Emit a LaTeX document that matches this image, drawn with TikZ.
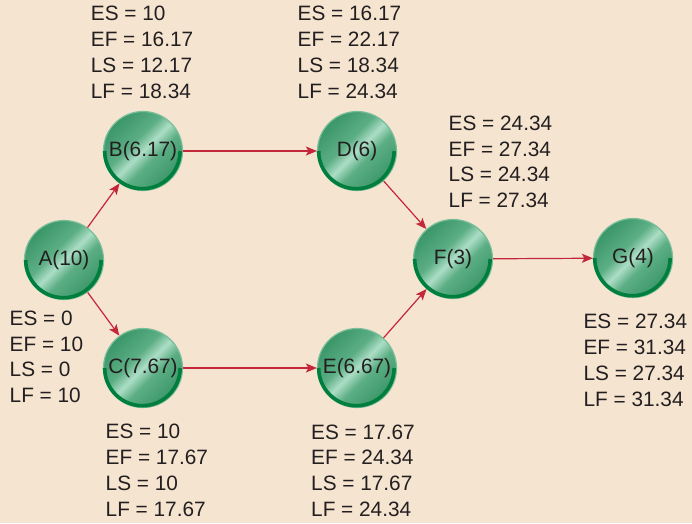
\documentclass[tikz,border=0pt]{standalone}
\usepackage{fontspec}
\setmainfont{Liberation Sans}
\usetikzlibrary{arrows.meta, positioning}
\definecolor{bgpeach}{RGB}{245,228,208}
\definecolor{arrred}{RGB}{196,38,58}
\definecolor{inkdark}{RGB}{35,31,32}
\definecolor{balldark}{RGB}{58,150,104}
\definecolor{ballmid}{RGB}{92,174,132}
\definecolor{balllight}{RGB}{172,222,198}
\definecolor{rimdark}{RGB}{0,126,62}
\definecolor{rimlight}{RGB}{120,190,152}
\pgfdeclarehorizontalshading{ballsheen}{100bp}{color(0bp)=(balldark); color(25bp)=(balldark);
  color(42bp)=(ballmid); color(50bp)=(balllight); color(58bp)=(ballmid);
  color(75bp)=(balldark); color(100bp)=(balldark)}

\begin{document}
\begin{tikzpicture}[
  x=1pt, y=-1pt,
  act/.style={circle, draw=rimlight, line width=1.2pt, minimum size=79pt, inner sep=0pt,
              shading=ballsheen, shading angle=-45, text=inkdark,
              font=\fontsize{20.8}{24}\selectfont},
  times/.style={anchor=base west, align=left, text=inkdark, inner sep=0pt,
                font=\fontsize{20.8}{25.8}\selectfont},
  rim/.style={draw=rimdark, line width=3.6pt},
  arr/.style={-{Stealth[length=11pt, width=9pt, inset=2.5pt]}, draw=arrred, line width=1.2pt}
]
  \fill[bgpeach] (0,0) rectangle (692,523);

  % activities
  \node[act] (A) at (64,260)  {A(10)};
  \node[act] (B) at (143,151) {B(6.17)};
  \node[act] (C) at (143,368) {C(7.67)};
  \node[act] (D) at (357,151) {D(6)};
  \node[act] (E) at (357,368) {E(6.67)};
  \node[act] (F) at (453,259) {F(3)};
  \node[act] (G) at (633,258) {G(4)};

  % darker lower rim
  \foreach \n in {A,B,C,D,E,F,G}
    \draw[rim] ([xshift=1.8pt]\n.west) arc[start angle=180, end angle=360, radius=37.7pt];

  \draw[arr] (A) -- (B);
  \draw[arr] (A) -- (C);
  \draw[arr] (B) -- (D);
  \draw[arr] (C) -- (E);
  \draw[arr] (D) -- (F);
  \draw[arr] (E) -- (F);
  \draw[arr] (F) -- (G);

  % early / late times (placed at the baseline of the last line)
  \node[times] (tA) at (9.5,402.7)   {ES = 0\\EF = 10\\LS = 0\\LF = 10};
  \node[times] (tB) at (90.7,98)     {ES = 10\\EF = 16.17\\LS = 12.17\\LF = 18.34};
  \node[times] (tC) at (105.5,516.2) {ES = 10\\EF = 17.67\\LS = 10\\LF = 17.67};
  \node[times] (tD) at (297.5,98)    {ES = 16.17\\EF = 22.17\\LS = 18.34\\LF = 24.34};
  \node[times] (tE) at (311,516.5)   {ES = 17.67\\EF = 24.34\\LS = 17.67\\LF = 24.34};
  \node[times] (tF) at (448.5,207.7) {ES = 24.34\\EF = 27.34\\LS = 24.34\\LF = 27.34};
  \node[times] (tG) at (583.4,406)   {ES = 27.34\\EF = 31.34\\LS = 27.34\\LF = 31.34};
\end{tikzpicture}
\end{document}
